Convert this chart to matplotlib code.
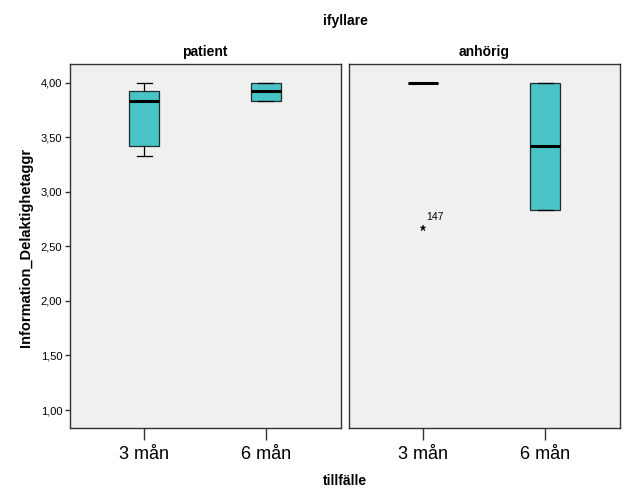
import matplotlib
matplotlib.use("Agg")
import matplotlib.pyplot as plt
from matplotlib.ticker import FuncFormatter

plt.rcParams['font.family'] = ['Liberation Sans', 'DejaVu Sans']

# ---- data ----
groups = ["patient", "anhörig"]
categories = ["3 mån", "6 mån"]
whislo = {"patient": [3.33, 3.83], "anhörig": [4.00, 2.83]}
q1 = {"patient": [3.42, 3.83], "anhörig": [4.00, 2.83]}
med = {"patient": [3.83, 3.92], "anhörig": [4.00, 3.42]}
q3 = {"patient": [3.92, 4.00], "anhörig": [4.00, 4.00]}
whishi = {"patient": [4.00, 4.00], "anhörig": [4.00, 4.00]}
fliers = {"patient": [[], []], "anhörig": [[2.67], []]}
flier_labels = {"patient": [[], []], "anhörig": [["147"], []]}
yticks = [1.0, 1.5, 2.0, 2.5, 3.0, 3.5, 4.0]

W, H = 629, 504
fig = plt.figure(figsize=(W / 100, H / 100), dpi=100)
fig.patch.set_facecolor("white")

bottom_px, top_px = 427.7, 64.0
panels_px = [(69.5, 341.0), (349.0, 620.0)]
box_color = "#48C3C6"
edge_color = "#1e2e2e"

axes = []
for gi, g in enumerate(groups):
    l, r = panels_px[gi]
    ax = fig.add_axes([l / W, (H - bottom_px) / H, (r - l) / W, (bottom_px - top_px) / H])
    ax.set_facecolor("#F0F0F0")
    stats = []
    for ci, c in enumerate(categories):
        stats.append(dict(whislo=whislo[g][ci], q1=q1[g][ci], med=med[g][ci],
                          q3=q3[g][ci], whishi=whishi[g][ci], fliers=fliers[g][ci],
                          label=c))
    positions = list(range(len(categories)))
    ax.bxp(stats, positions=positions, widths=0.246, patch_artist=True,
           boxprops=dict(facecolor=box_color, edgecolor=edge_color, linewidth=0.9),
           medianprops=dict(color="black", linewidth=2.2),
           whiskerprops=dict(color="black", linewidth=0.9),
           capprops=dict(color="black", linewidth=0.9),
           capwidths=0.123,
           flierprops=dict(marker="*", markersize=5, markerfacecolor="black",
                           markeredgecolor="black", markeredgewidth=0.3,
                           linestyle="none"))
    for ci in positions:
        for v, lab in zip(fliers[g][ci], flier_labels[g][ci]):
            ax.annotate(lab, xy=(ci, v), xytext=(2.2, 7.6), textcoords="offset points",
                        fontsize=7.5, ha="left", va="center")
    ax.set_xlim(-0.611, 1.615)
    ax.set_ylim(0.838, 4.171)
    ax.set_xticks(positions)
    ax.set_xticklabels(categories, fontsize=13)
    ax.tick_params(axis="x", direction="out", length=8.6, width=1, color="#333333", pad=4.5)
    for s in ax.spines.values():
        s.set_color("#333333")
        s.set_linewidth(1.0)
    if gi == 0:
        ax.set_yticks(yticks)
        ax.yaxis.set_major_formatter(FuncFormatter(lambda v, p: f"{v:.2f}".replace(".", ",")))
        ax.tick_params(axis="y", direction="out", length=3.6, width=1, color="#333333",
                       labelsize=8, pad=1.5)
    else:
        ax.set_yticks([])
    fig.text(((l + r) / 2) / W, 1 - 52 / H, g, ha="center", va="center",
             fontsize=10, fontweight="bold")
    axes.append(ax)

fig.text(345 / W, 1 - 21 / H, "ifyllare", ha="center", va="center",
         fontsize=10, fontweight="bold")
fig.text(345 / W, 1 - 481 / H, "tillfälle", ha="center", va="center",
         fontsize=10, fontweight="bold")
fig.text(26 / W, 1 - 247.5 / H, "Information_Delaktighetaggr", ha="center", va="center",
         rotation=90, fontsize=10.5, fontweight="bold")

fig.savefig("out.png", dpi=100, facecolor="white")
